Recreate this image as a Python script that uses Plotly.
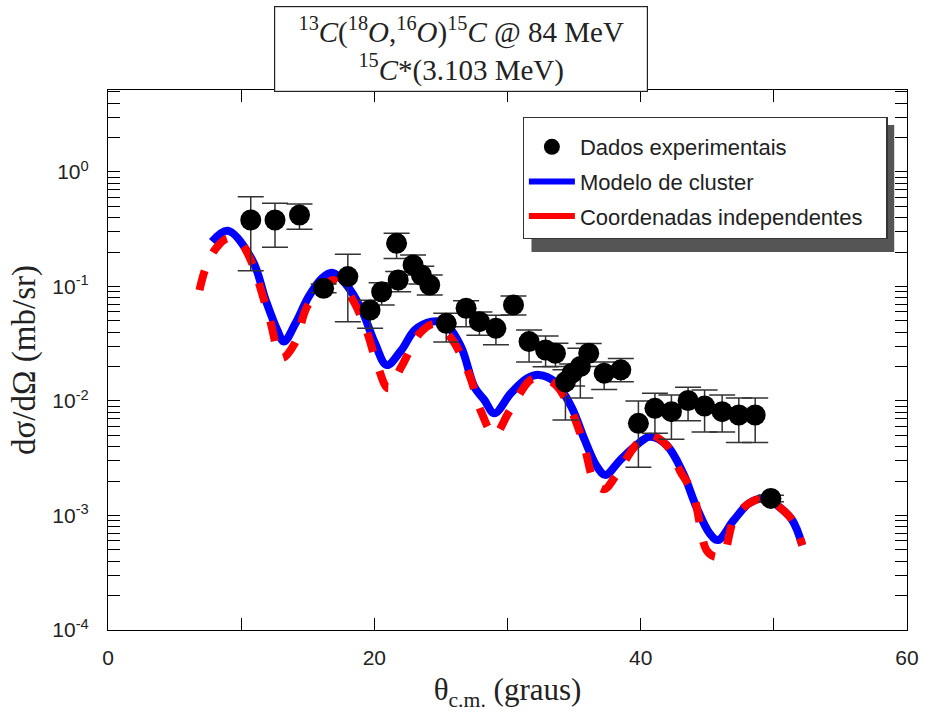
import plotly.graph_objects as go

# Experimental data (theta_cm in degrees, dsigma/dOmega in mb/sr)
exp_x = [10.72, 12.54, 14.38, 16.19, 18.01, 19.68, 20.55, 21.67, 21.79, 22.91,
         23.53, 24.16, 25.40, 26.89, 27.89, 29.13, 30.45, 31.62, 32.86, 33.60,
         34.35, 34.85, 35.47, 36.10, 37.26, 38.51, 39.83, 41.07, 42.31, 43.56,
         44.80, 46.12, 47.37, 48.60, 49.78]
exp_y = [0.381, 0.381, 0.421, 0.0965, 0.122, 0.0623, 0.090, 0.238, 0.114, 0.154,
         0.126, 0.103, 0.0477, 0.0645, 0.0493, 0.0431, 0.069, 0.033, 0.0279, 0.0261,
         0.0147, 0.0175, 0.020, 0.0261, 0.0175, 0.0187, 0.00638, 0.00863, 0.00807, 0.0101,
         0.00904, 0.00807, 0.00755, 0.00755, 0.00141]
exp_hi = [0.608, 0.532, 0.526, 0.105, 0.191, 0.076, 0.108, 0.291, 0.135, 0.188,
          0.150, 0.126, 0.0583, 0.075, 0.060, 0.056, 0.0826, 0.0416, 0.0369, 0.032,
          0.0187, 0.021, 0.0289, 0.0317, 0.0219, 0.0235, 0.0100, 0.0117, 0.0113, 0.0132,
          0.0125, 0.0113, 0.0106, 0.0106, 0.00150]
exp_lo = [0.137, 0.220, 0.316, 0.088, 0.0493, 0.0431, 0.0689, 0.176, 0.0899, 0.126,
          0.105, 0.0843, 0.0328, 0.0445, 0.0376, 0.031, 0.0563, 0.0219, 0.0199, 0.0200,
          0.00682, 0.0135, 0.0106, 0.0200, 0.0126, 0.0147, 0.00264, 0.00522, 0.00463, 0.00673,
          0.00535, 0.00535, 0.00433, 0.00433, 0.00132]

# Cluster model curve
clu_x = [7.81, 8.98, 10.84, 11.84, 12.71, 13.21, 14.08, 15.07, 16.07, 16.81,
         17.81, 19.05, 20.05, 20.93, 22.04, 23.04, 24.28, 25.28, 26.51, 27.51,
         28.26, 29.01, 30.25, 31.49, 32.37, 33.56, 34.80, 35.80, 36.72, 37.35,
         38.46, 39.70, 40.69, 41.94, 43.19, 44.18, 45.17, 45.80, 46.99, 48.16,
         49.35, 50.40, 51.39, 52.14]
clu_y = [0.246, 0.307, 0.170, 0.0762, 0.0417, 0.033, 0.0477, 0.0815, 0.118, 0.132,
         0.1067, 0.0623, 0.0319, 0.0206, 0.0279, 0.0417, 0.0493, 0.0477, 0.0298, 0.0133,
         0.0102, 0.0078, 0.0117, 0.0158, 0.0169, 0.0147, 0.0089, 0.00456, 0.00267, 0.00226,
         0.00305, 0.00413, 0.00488, 0.00413, 0.00234, 0.00119, 0.00070, 0.00061, 0.00091, 0.00128,
         0.00141, 0.00119, 0.00091, 0.00055]

# Independent coordinates curve
ind_x = [6.87, 7.37, 8.11, 8.98, 9.90, 10.72, 12.09, 13.06, 14.03, 14.95,
         16.20, 16.94, 18.06, 19.31, 20.19, 21.04, 22.04, 23.41, 24.50, 25.77,
         27.14, 28.01, 29.01, 30.13, 31.74, 32.49, 33.56, 34.72, 35.70, 36.59,
         37.30, 38.08, 39.70, 40.69, 41.94, 43.00, 43.93, 44.93, 45.50, 46.17,
         46.99, 48.16, 49.35, 50.40, 51.39, 52.14]
ind_y = [0.093, 0.149, 0.216, 0.264, 0.245, 0.170, 0.0545, 0.0238, 0.032, 0.0667,
         0.100, 0.114, 0.087, 0.0446, 0.0213, 0.0129, 0.020, 0.039, 0.047, 0.0353,
         0.0169, 0.0081, 0.00505, 0.0081, 0.0153, 0.0158, 0.0140, 0.0086, 0.0043, 0.0019,
         0.0017, 0.00218, 0.0042, 0.00505, 0.0041, 0.0024, 0.00156, 0.0005, 0.00044, 0.00045,
         0.00091, 0.00128, 0.00141, 0.00119, 0.00091, 0.00055]

y_tickvals = [1e-4, 1e-3, 1e-2, 1e-1, 1e0]
y_ticktext = ["10<sup>-4</sup>", "10<sup>-3</sup>", "10<sup>-2</sup>", "10<sup>-1</sup>", "10<sup>0</sup>"]
x_tickvals = [0, 20, 40, 60]
minor_y = [m * 10.0 ** e for e in range(-4, 1) for m in range(2, 10)]

err_plus = [h - y for h, y in zip(exp_hi, exp_y)]
err_minus = [y - l for y, l in zip(exp_y, exp_lo)]

fig = go.Figure()

fig.add_trace(go.Scatter(
    x=clu_x, y=clu_y, mode="lines", line=dict(color="#0000ff", width=8, shape="spline"),
    showlegend=False, hoverinfo="skip"))
fig.add_trace(go.Scatter(
    x=ind_x, y=ind_y, mode="lines",
    line=dict(color="#ff0000", width=8, shape="spline", dash="20px,20px"),
    showlegend=False, hoverinfo="skip"))
fig.add_trace(go.Scatter(
    x=exp_x, y=exp_y, mode="markers", name="Dados experimentais", legendgroup="a",
    marker=dict(color="black", size=21, symbol="circle"),
    error_y=dict(type="data", array=err_plus, arrayminus=err_minus, color="#333333",
                 thickness=1.5, width=13)))
# legend entries for curves (solid lines)
fig.add_trace(go.Scatter(x=[None], y=[None], mode="lines", name="Modelo de cluster",
                         legendgroup="b", line=dict(color="#0000ff", width=6)))
fig.add_trace(go.Scatter(x=[None], y=[None], mode="lines",
                         name="Coordenadas independentes\u00a0\u00a0\u00a0",
                         legendgroup="c", line=dict(color="#ff0000", width=6)))

tick_font = dict(family="Liberation Sans, Arial", size=21, color="#222222")
serif = "Liberation Serif, Times New Roman, serif"

fig.update_layout(
    width=931, height=718,
    margin=dict(l=108, r=19, t=90, b=88),
    paper_bgcolor="white", plot_bgcolor="white",
    xaxis=dict(range=[0, 60], tickvals=x_tickvals, ticks="inside", ticklen=12,
               tickcolor="black", showline=True, linecolor="black", linewidth=1.2,
               mirror="ticks", showgrid=False, zeroline=False, tickfont=tick_font,
               ticklabelstandoff=9,
               minor=dict(dtick=10, ticks="inside", ticklen=12, tickcolor="black", showgrid=False),
               title=dict(text="θ<sub>c.m.</sub> (graus)", font=dict(family=serif, size=31, color="#222"),
                          standoff=10)),
    yaxis=dict(type="log", range=[-4, 0.716], tickvals=y_tickvals, ticktext=y_ticktext,
               ticks="inside", ticklen=12, tickcolor="black", showline=True, linecolor="black",
               linewidth=1.2, mirror="ticks", showgrid=False, zeroline=False, tickfont=tick_font,
               ticklabelstandoff=14,
               minor=dict(tickvals=minor_y, ticks="inside", ticklen=12, tickcolor="black", showgrid=False),
               title=dict(text="dσ/dΩ (mb/sr)", font=dict(family=serif, size=33, color="#222"),
                          standoff=6)),
    legend=dict(x=0.519, y=0.95, xanchor="left", yanchor="top", bgcolor="white",
                bordercolor="#333", borderwidth=1.2,
                font=dict(family="Liberation Sans, Arial", size=22, color="#222"),
                title=dict(text=" ", font=dict(size=6)),
                tracegroupgap=3, itemwidth=46),
    shapes=[dict(type="rect", xref="paper", yref="paper", x0=0.530, x1=0.984, y0=0.700, y1=0.935,
                 fillcolor="#555555", line=dict(width=0), layer="above")],
    annotations=[dict(
        text="<sup>13</sup><i>C</i>(<sup>18</sup><i>O</i>,<sup>16</sup><i>O</i>)<sup>15</sup><i>C</i> @ 84 MeV"
             "<br><sup>15</sup><i>C</i>*(3.103 MeV)",
        xref="paper", yref="paper", x=0.442, y=1, xanchor="center", yanchor="bottom", yshift=-2,
        showarrow=False, font=dict(family=serif, size=29, color="#222"),
        width=368, height=80,
        bordercolor="#222", borderwidth=1.2, bgcolor="white", borderpad=2)],
)

fig.write_html("out.html")
